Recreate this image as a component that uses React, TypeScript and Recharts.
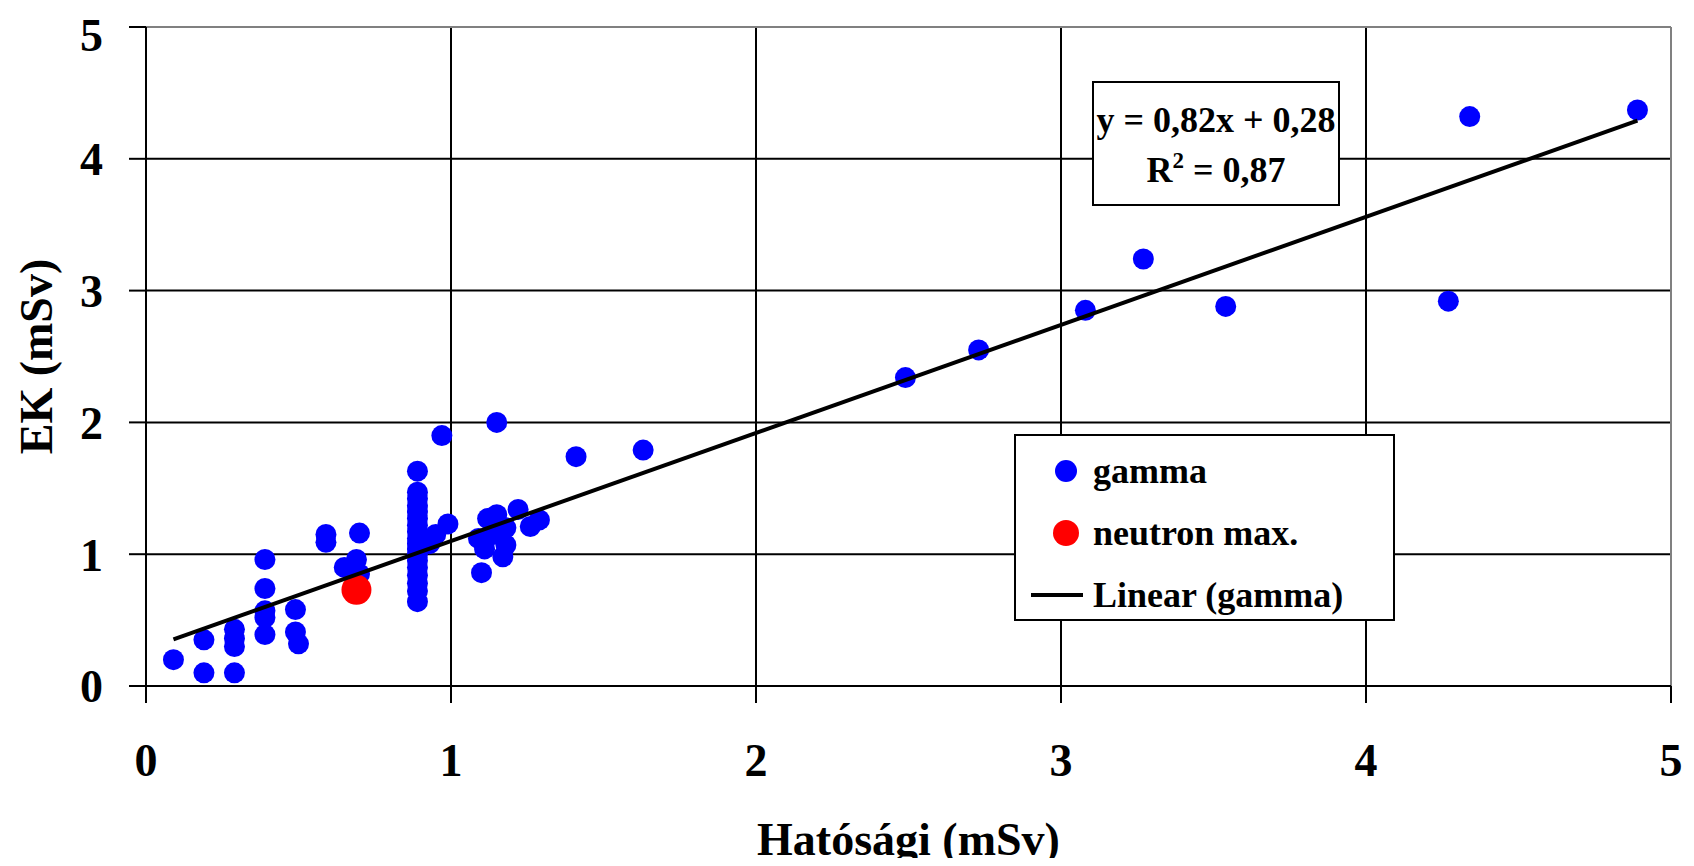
import { ScatterChart, Scatter, XAxis, YAxis, CartesianGrid, ReferenceLine, Label } from "recharts"

const ticks = [0, 1, 2, 3, 4, 5]

// gamma points (Hatósági, EK)
const gammaX = [
    0.09, 0.19, 0.19, 0.29, 0.29, 0.29, 0.29, 0.39, 0.39, 0.39, 0.39, 0.39,
    0.49, 0.49, 0.5, 0.59, 0.59, 0.7, 0.69, 0.65, 0.7,
    0.89, 0.89, 0.89, 0.89, 0.89, 0.89, 0.89, 0.89, 0.89, 0.89, 0.89, 0.89, 0.89, 0.89, 0.89, 0.89, 0.89, 0.89,
    0.97, 0.99, 0.95, 0.93, 1.15,
    1.1, 1.12, 1.15, 1.22, 1.29, 1.26, 1.09, 1.11, 1.17, 1.18, 1.14, 1.18,
    1.41, 1.63, 2.49, 2.73, 3.08, 3.27, 3.54, 4.27, 4.34, 4.89,
]
const gammaY = [
    0.2, 0.1, 0.35, 0.1, 0.3, 0.36, 0.43, 0.96, 0.74, 0.52, 0.57, 0.39,
    0.58, 0.41, 0.32, 1.15, 1.09, 1.16, 0.96, 0.9, 0.85,
    0.64, 0.72, 0.78, 0.84, 0.9, 0.95, 1.0, 1.04, 1.08, 1.12, 1.17, 1.22, 1.27, 1.32, 1.37, 1.42, 1.47, 1.63,
    1.9, 1.23, 1.15, 1.08, 2.0,
    0.86, 1.27, 1.3, 1.34, 1.26, 1.21, 1.12, 1.04, 0.98, 1.07, 1.15, 1.2,
    1.74, 1.79, 2.34, 2.55, 2.85, 3.24, 2.88, 2.92, 4.32, 4.37,
]
const neutronX = [0.69]
const neutronY = [0.73]

// Linear (gamma) trend: y = 0,82x + 0,28
const slope = 0.82
const intercept = 0.28

const gamma = gammaX.map((x, i) => ({ x, y: gammaY[i] }))
const neutron = neutronX.map((x, i) => ({ x, y: neutronY[i] }))
const xMin = Math.min(...gammaX)
const xMax = Math.max(...gammaX)
const trend = [xMin, xMax].map((x) => ({ x, y: slope * x + intercept }))

const font = "'Liberation Serif', 'Times New Roman', serif"
const tickStyle = { fontFamily: font, fontWeight: 700, fontSize: 46, fill: "#000" }

const blueDot = (p: any) => <circle cx={p.cx} cy={p.cy} r={10.5} fill="#0000ff" />
const redDot = (p: any) => <circle cx={p.cx} cy={p.cy} r={15} fill="#ff0000" />
const noDot = () => <g />

export default function App() {
    return (
        <div style={{ position: "relative", width: 1678, height: 858, marginBottom: -8, fontFamily: font }}>
            <ScatterChart width={1678} height={858} margin={{ top: 19, right: 15, bottom: 0, left: 0 }}>
                <CartesianGrid stroke="#000" strokeWidth={2} />
                <XAxis
                    type="number"
                    dataKey="x"
                    domain={[0, 5]}
                    ticks={ticks}
                    height={180}
                    tick={tickStyle}
                    tickSize={17}
                    tickMargin={40}
                    stroke="#000"
                    strokeWidth={2}
                >
                    <Label
                        content={(props: any) => {
                            const vb = props.viewBox
                            return (
                                <text x={vb.x + vb.width / 2} y={vb.y + 169} textAnchor="middle" style={tickStyle}>
                                    Hatósági (mSv)
                                </text>
                            )
                        }}
                    />
                </XAxis>
                <YAxis
                    type="number"
                    dataKey="y"
                    domain={[0, 5]}
                    ticks={ticks}
                    width={138}
                    tick={tickStyle}
                    tickSize={17}
                    tickMargin={26}
                    stroke="#000"
                    strokeWidth={2}
                >
                    <Label
                        content={(props: any) => {
                            const vb = props.viewBox
                            const cx = vb.x + 28
                            const cy = vb.y + vb.height / 2
                            return (
                                <text
                                    x={cx}
                                    y={cy}
                                    transform={`rotate(-90, ${cx}, ${cy})`}
                                    textAnchor="middle"
                                    dominantBaseline="central"
                                    style={tickStyle}
                                >
                                    EK (mSv)
                                </text>
                            )
                        }}
                    />
                </YAxis>
                <ReferenceLine y={5} stroke="#808080" strokeWidth={2} />
                <ReferenceLine x={5} stroke="#808080" strokeWidth={2} />
                <Scatter name="gamma" data={gamma} shape={blueDot} isAnimationActive={false} />
                <Scatter name="neutron max." data={neutron} shape={redDot} isAnimationActive={false} />
                <Scatter
                    name="Linear (gamma)"
                    data={trend}
                    line={{ stroke: "#000", strokeWidth: 4 }}
                    shape={noDot}
                    isAnimationActive={false}
                />
            </ScatterChart>

            {/* trendline equation box */}
            <div
                style={{
                    position: "absolute",
                    left: 1084,
                    top: 73,
                    width: 248,
                    height: 125,
                    border: "2px solid #000",
                    background: "#fff",
                    fontWeight: 700,
                    fontSize: 36,
                    textAlign: "center",
                    lineHeight: "50px",
                    paddingTop: 12,
                    boxSizing: "border-box",
                }}
            >
                <div>y = 0,82x + 0,28</div>
                <div>
                    R<sup style={{ fontSize: 23, verticalAlign: "top", lineHeight: "32px" }}>2</sup> = 0,87
                </div>
            </div>

            {/* legend */}
            <div
                style={{
                    position: "absolute",
                    left: 1006,
                    top: 426,
                    width: 381,
                    height: 187,
                    border: "2px solid #000",
                    background: "#fff",
                    boxSizing: "border-box",
                    fontWeight: 700,
                    fontSize: 36,
                }}
            >
                {[
                    { label: "gamma", kind: "blue" },
                    { label: "neutron max.", kind: "red" },
                    { label: "Linear (gamma)", kind: "line" },
                ].map((e, i) => (
                    <div
                        key={e.label}
                        style={{ position: "absolute", left: 0, top: 14 + i * 62, height: 42, display: "flex", alignItems: "center" }}
                    >
                        <div style={{ width: 77, display: "flex", justifyContent: "center" }}>
                            {e.kind === "line" ? (
                                <div style={{ width: 52, height: 4, background: "#000", marginLeft: 5 }} />
                            ) : (
                                <div
                                    style={{
                                        width: e.kind === "red" ? 26 : 22,
                                        height: e.kind === "red" ? 26 : 22,
                                        borderRadius: "50%",
                                        background: e.kind === "red" ? "#ff0000" : "#0000ff",
                                        marginLeft: 23,
                                    }}
                                />
                            )}
                        </div>
                        <span>{e.label}</span>
                    </div>
                ))}
            </div>
        </div>
    )
}
